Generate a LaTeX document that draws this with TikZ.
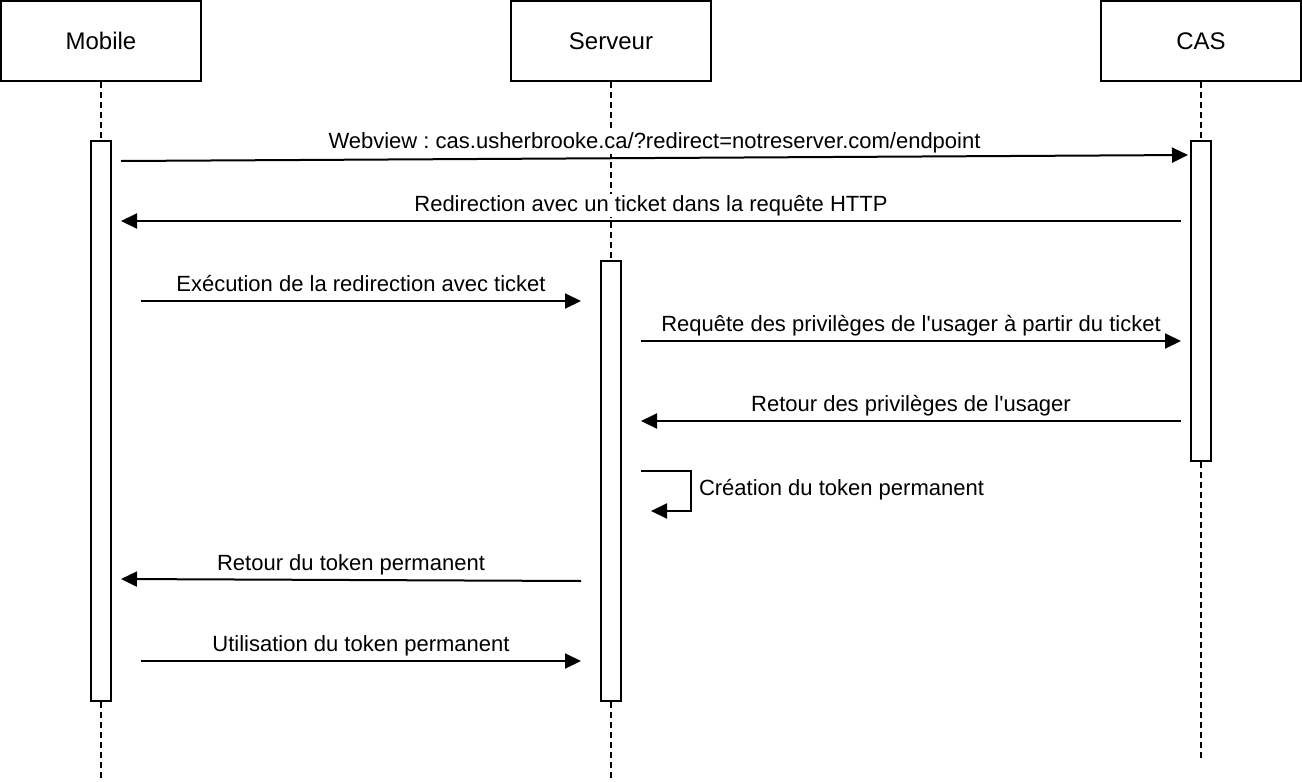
\documentclass[tikz,border=0pt]{standalone}
\usepackage{fontspec}
\setmainfont{Liberation Sans}
\usetikzlibrary{arrows.meta}
\frenchspacing

\begin{document}
\begin{tikzpicture}[x=1pt, y=-1pt, line width=2pt,
    actor/.style={draw, minimum width=200pt, minimum height=80pt, font=\fontsize{24}{28}\selectfont},
    bar/.style={draw, fill=white, minimum width=20pt, inner sep=0pt},
    life/.style={dash pattern=on 6pt off 4pt},
    msg/.style={-{Triangle[length=16pt, width=15pt]}},
    lbl/.style={anchor=base, yshift=10pt, inner sep=1pt, fill=white, font=\fontsize{22}{26}\selectfont}]

    \useasboundingbox (0, 0) rectangle (1302, 782);

    % participants
    \node[actor] (mobile) at (101, 41) {Mobile};
    \node[actor] (serveur) at (611, 41) {Serveur};
    \node[actor] (cas) at (1201, 41) {CAS};

    \coordinate (mobile end) at (101, 782);
    \coordinate (serveur end) at (611, 782);
    \coordinate (cas end) at (1201, 760);

    \draw[life] (mobile.south) -- (mobile end);
    \draw[life] (serveur.south) -- (serveur end);
    \draw[life] (cas.south) -- (cas end);

    % activations
    \node[bar, minimum height=560pt] (mobile bar) at (101, 421) {};
    \node[bar, minimum height=440pt] (serveur bar) at (611, 481) {};
    \node[bar, minimum height=320pt] (cas bar) at (1201, 301) {};

    % messages
    \coordinate (webview a) at (121, 161);
    \coordinate (webview b) at (1188, 155);
    \coordinate (redir a) at (1181, 221);
    \coordinate (redir b) at (121, 221);
    \coordinate (exec a) at (141, 301);
    \coordinate (exec b) at (581, 301);
    \coordinate (req a) at (641, 341);
    \coordinate (req b) at (1181, 341);
    \coordinate (priv a) at (1181, 421);
    \coordinate (priv b) at (641, 421);
    \coordinate (create a) at (641, 471);
    \coordinate (create b) at (651, 511);
    \coordinate (token a) at (581, 581);
    \coordinate (token b) at (121, 579);
    \coordinate (use a) at (141, 661);
    \coordinate (use b) at (581, 661);

    \draw[msg] (webview a) -- node[lbl] {Webview : cas.usherbrooke.ca/?redirect=notreserver.com/endpoint} (webview b);
    \draw[msg] (redir a) -- node[lbl] {Redirection avec un ticket dans la requête HTTP} (redir b);
    \draw[msg] (exec a) -- node[lbl] {Exécution de la redirection avec ticket} (exec b);
    \draw[msg] (req a) -- node[lbl] {Requête des privilèges de l\textquotesingle usager à partir du ticket} (req b);
    \draw[msg] (priv a) -- node[lbl] {Retour des privilèges de l\textquotesingle usager} (priv b);
    \draw[msg] (create a) -- ++(50, 0) |- (create b);
    \node[anchor=base west, inner sep=0pt, font=\fontsize{22}{26}\selectfont] (create lbl) at (698, 495) {Création du token permanent};
    \draw[msg] (token a) -- node[lbl] {Retour du token permanent} (token b);
    \draw[msg] (use a) -- node[lbl] {Utilisation du token permanent} (use b);

\end{tikzpicture}
\end{document}
